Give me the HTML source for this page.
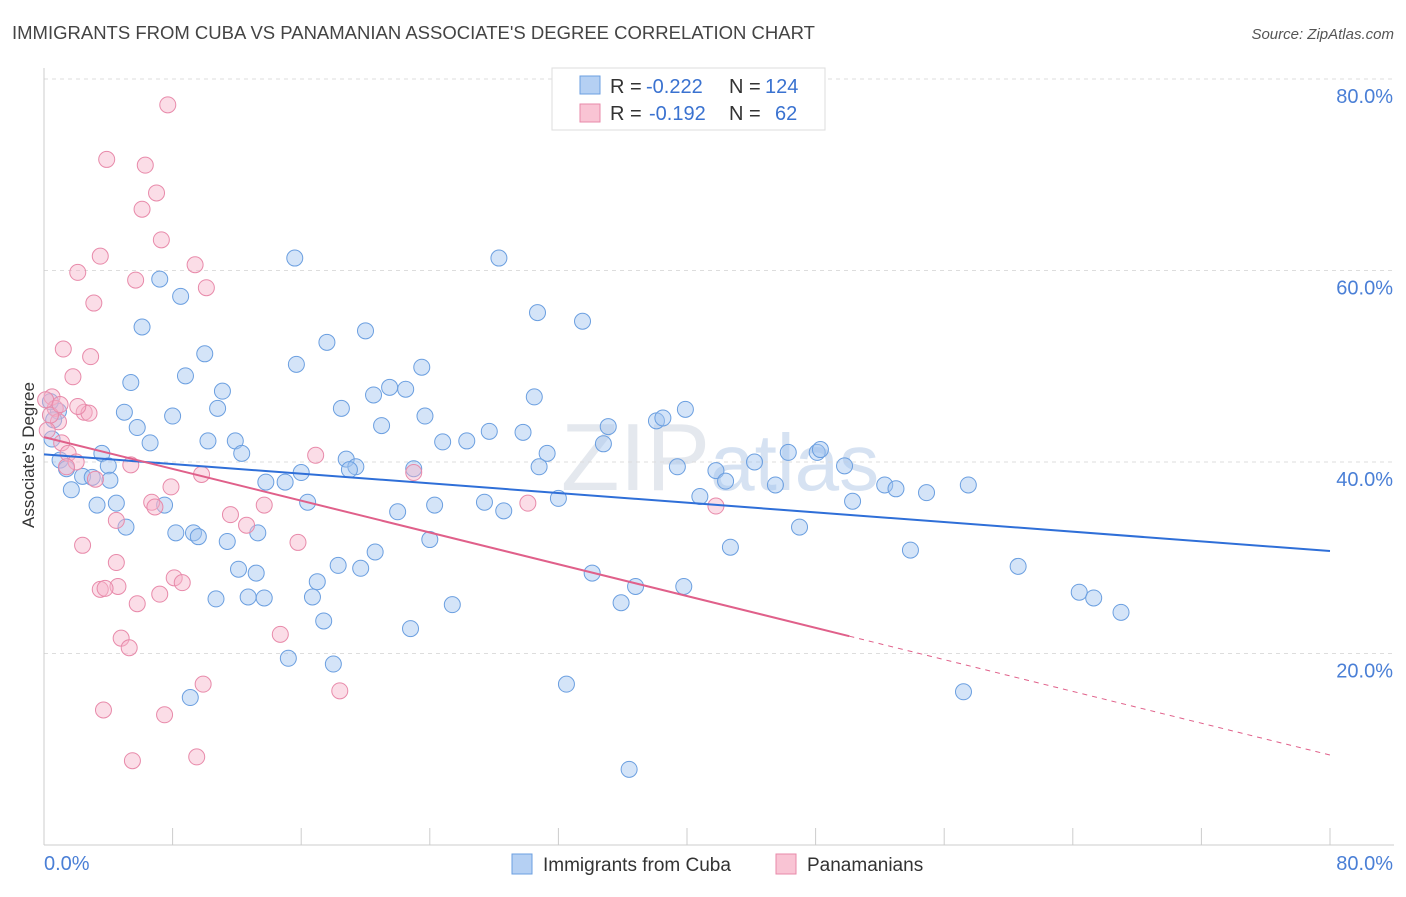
<!DOCTYPE html>
<html><head><meta charset="utf-8"><style>
body{margin:0;background:#fff;font-family:"Liberation Sans",sans-serif}
svg text{font-family:"Liberation Sans",sans-serif}
</style></head><body>
<svg id="chart" width="1406" height="892" viewBox="0 0 1406 892">
<text x="12" y="39" font-size="18.5" fill="#444">IMMIGRANTS FROM CUBA VS PANAMANIAN ASSOCIATE'S DEGREE CORRELATION CHART</text>
<text x="1394" y="39" font-size="15" fill="#555" text-anchor="end" font-style="italic">Source: ZipAtlas.com</text>
<text x="720" y="490" font-size="96" fill="#e4e8ee" text-anchor="middle" font-family="Liberation Serif">ZIP<tspan font-family="Liberation Sans" font-size="80" fill="#d6e2f2">atlas</tspan></text>
<g id="grid"></g>
<g id="axes"></g>
<g id="pts"></g>
<g id="lines"></g>
<text transform="translate(34,455) rotate(-90)" font-size="17" fill="#333" text-anchor="middle">Associate's Degree</text>
<g>
<rect x="552" y="68" width="273" height="62" fill="#fff" stroke="#ddd"/>
<rect x="580" y="76" width="20" height="18" fill="#b5d0f3" stroke="#6b9fe0"/>
<rect x="580" y="104" width="20" height="18" fill="#f9c4d4" stroke="#e88aaa"/>
<text x="610" y="93" font-size="20" fill="#333">R =</text>
<text x="646" y="93" font-size="20" fill="#3a72d0">-0.222</text>
<text x="729" y="93" font-size="20" fill="#333">N =</text>
<text x="765" y="93" font-size="20" fill="#3a72d0">124</text>
<text x="610" y="120" font-size="20" fill="#333">R =</text>
<text x="649" y="120" font-size="20" fill="#3a72d0">-0.192</text>
<text x="729" y="120" font-size="20" fill="#333">N =</text>
<text x="775" y="120" font-size="20" fill="#3a72d0">62</text>
</g>
<g>
<rect x="512" y="854" width="20" height="20" fill="#b5d0f3" stroke="#6b9fe0"/>
<text x="543" y="871" font-size="19" fill="#333">Immigrants from Cuba</text>
<rect x="776" y="854" width="20" height="20" fill="#f9c4d4" stroke="#e88aaa"/>
<text x="807" y="871" font-size="19" fill="#333">Panamanians</text>
</g>
</svg>
<script>
const yTicks=[20,40,60,80];
const yTickLabels=["20.0%","40.0%","60.0%","80.0%"];
const xTickVals=[0,8,16,24,32,40,48,56,64,72,80];
const blueX=[7.2,8.5,6.1,10.0,5.4,8.8,11.1,10.8,5.0,8.0,5.8,6.6,10.2,11.9,12.3,3.6,4.0,2.4,3.0,4.1,1.7,3.3,4.5,5.1,7.5,8.2,9.3,9.6,11.4,13.3,12.1,13.2,10.7,12.7,13.7,9.1,15.6,15.7,17.6,20.0,23.5,21.5,22.5,20.5,18.5,21.0,23.7,24.8,26.3,27.7,29.8,31.3,30.8,18.8,19.4,19.0,23.0,16.0,13.8,15.0,16.4,22.0,24.3,27.4,28.6,32.0,24.0,20.6,18.3,19.7,17.0,16.7,17.4,22.8,25.4,15.2,18.0,32.5,36.4,28.3,30.7,33.5,30.5,35.1,34.8,38.1,38.5,39.9,39.4,41.8,42.4,44.2,46.3,48.1,48.3,49.8,45.5,40.8,50.3,52.3,53.0,54.9,57.5,34.1,36.8,39.8,35.9,42.7,47.0,53.9,60.6,64.4,65.3,67.0,57.2,0.5,1.0,1.4,0.9,0.4,0.6];
const blueY=[59.1,57.3,54.1,51.3,48.3,49.0,47.4,45.6,45.2,44.8,43.6,42.0,42.2,42.2,40.9,40.9,39.6,38.5,38.4,38.1,37.1,35.5,35.7,33.2,35.5,32.6,32.6,32.2,31.7,32.6,28.8,28.4,25.7,25.9,25.8,15.4,61.3,50.2,52.5,53.7,49.9,47.8,47.6,47.0,45.6,43.8,44.8,42.1,42.2,43.2,43.1,40.9,39.5,40.3,39.5,39.2,39.3,38.9,37.9,37.9,35.8,34.8,35.5,35.8,34.9,36.2,31.9,30.6,29.2,28.9,27.5,25.9,23.4,22.6,25.1,19.5,18.9,16.8,7.9,61.3,55.6,54.7,46.8,43.7,41.9,44.3,44.6,45.5,39.5,39.1,38.0,40.0,41.0,41.0,41.3,39.6,37.6,36.4,35.9,37.6,37.2,36.8,37.6,28.4,27.0,27.0,25.3,31.1,33.2,30.8,29.1,26.4,25.8,24.3,16.0,42.4,40.2,39.3,45.3,46.3,44.4];
const pinkX=[7.7,3.9,6.3,7.0,6.1,7.3,3.5,2.1,5.7,9.4,10.1,3.1,1.2,2.9,1.8,0.5,0.7,0.9,2.5,2.8,2.1,1.1,1.5,2.0,3.2,1.4,5.4,9.8,16.9,23.0,30.1,41.8,13.7,6.7,6.9,7.9,4.5,11.6,12.6,15.8,2.4,4.5,4.6,3.5,3.8,8.1,8.6,7.2,5.8,4.8,5.3,14.7,9.9,18.4,3.7,7.5,5.5,9.5,0.1,0.4,0.2,1.0];
const pinkY=[77.3,71.6,71.0,68.1,66.4,63.2,61.5,59.8,59.0,60.6,58.2,56.6,51.8,51.0,48.9,46.8,45.6,44.2,45.2,45.1,45.8,42.0,40.9,40.0,38.2,39.5,39.7,38.7,40.7,38.9,35.7,35.4,35.5,35.8,35.3,37.4,33.9,34.5,33.4,31.6,31.3,29.5,27.0,26.7,26.8,27.9,27.4,26.2,25.2,21.6,20.6,22.0,16.8,16.1,14.1,13.6,8.8,9.2,46.5,44.9,43.3,46.0];
const blueTrend=[40.8,30.7];
const pinkTrend=[42.6,9.4];
const pinkSolidEnd=50.1;
const NS="http://www.w3.org/2000/svg";
const X=v=>44+v*16.075, Y=v=>845-v*9.575;
function mk(p,t,a){const e=document.createElementNS(NS,t);for(const k in a)e.setAttribute(k,a[k]);p.appendChild(e);return e;}
const grid=document.getElementById('grid'),axes=document.getElementById('axes');
yTicks.forEach((t,i)=>{
 const l=mk(grid,'line',{x1:44,x2:1394,y1:Y(t),y2:Y(t),stroke:'#ddd','stroke-dasharray':'4,4'});
 
 
 const tx=mk(axes,'text',{x:1393,y:Y(t)+24,'font-size':20,fill:'#4a7fd6','text-anchor':'end'});
 tx.textContent=yTickLabels[i];
 
 
});
const ax=mk(axes,'line',{x1:44,x2:1394,y1:845,y2:845,stroke:'#ccc'});


const ay=mk(axes,'line',{x1:44,x2:44,y1:68,y2:845,stroke:'#ccc'});


xTickVals.forEach(v=>{const t=mk(axes,'line',{x1:X(v),x2:X(v),y1:828,y2:845,stroke:'#ccc'});
 
 });
[[0,'0.0%','start',44],[80,'80.0%','end',1393]].forEach(d=>{const t=mk(axes,'text',{x:d[3],y:870,'font-size':20,fill:'#4a7fd6','text-anchor':d[2]});t.textContent=d[1];
 
 });
const pts=document.getElementById('pts');
blueX.forEach((v,i)=>{const c=mk(pts,'circle',{cx:X(v),cy:Y(blueY[i]),r:8,fill:'rgba(160,195,240,0.45)',stroke:'#6b9fe0','stroke-width':1});
 
 });
pinkX.forEach((v,i)=>{const c=mk(pts,'circle',{cx:X(v),cy:Y(pinkY[i]),r:8,fill:'rgba(246,180,202,0.45)',stroke:'#e88aaa','stroke-width':1});
 
 });
const lines=document.getElementById('lines');
const bl=mk(lines,'line',{x1:X(0),y1:Y(blueTrend[0]),x2:X(80),y2:Y(blueTrend[1]),stroke:'#2f6fd8','stroke-width':2});


const pm=pinkTrend[0]+(pinkTrend[1]-pinkTrend[0])*pinkSolidEnd/80;
const pl=mk(lines,'line',{x1:X(0),y1:Y(pinkTrend[0]),x2:X(pinkSolidEnd),y2:Y(pm),stroke:'#e0608a','stroke-width':2});


const pd=mk(lines,'line',{x1:X(pinkSolidEnd),y1:Y(pm),x2:X(80),y2:Y(pinkTrend[1]),stroke:'#e0608a','stroke-width':1,'stroke-dasharray':'5,5'});


</script>
</body></html>
